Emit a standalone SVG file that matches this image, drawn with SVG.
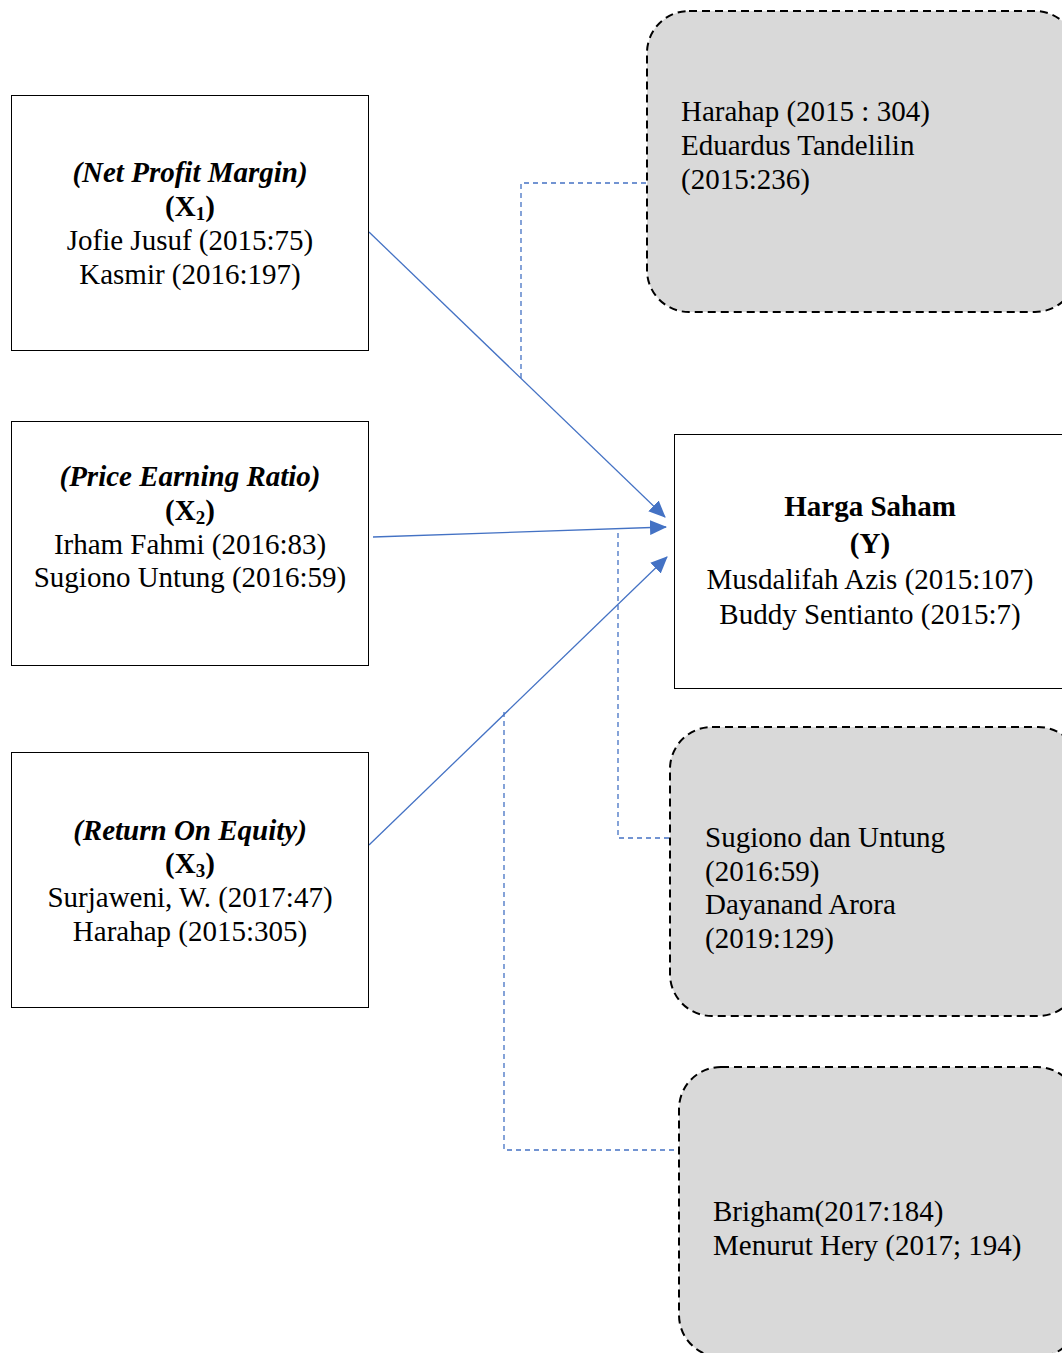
<svg xmlns="http://www.w3.org/2000/svg" width="1062" height="1353" viewBox="0 0 1062 1353">
<style>
text{font-family:"Liberation Serif","Times New Roman",serif;font-size:29px;fill:#000}
.c{text-anchor:middle}
.bi{font-weight:bold;font-style:italic}
.b{font-weight:bold}
.sub{font-size:19px}
.box{fill:#fff;stroke:#000;stroke-width:1}
.rbox{fill:#d9d9d9;stroke:#000;stroke-width:2;stroke-dasharray:8 5}
.arr{stroke:#4472c4;stroke-width:1.3;fill:none}
.dash{stroke:#4472c4;stroke-width:1.3;fill:none;stroke-dasharray:5 4}
</style>
<defs>
<marker id="ah" viewBox="0 0 17 15" refX="16" refY="7.5" markerWidth="17" markerHeight="15" markerUnits="userSpaceOnUse" orient="auto">
<path d="M0,0 L17,7.5 L0,15 z" fill="#4472c4"/>
</marker>
</defs>
<rect width="1062" height="1353" fill="#fff"/>
<g id="connectors">
<path class="dash" d="M521,378 V183 H647"/>
<path class="dash" d="M618,533 V838 H670"/>
<path class="dash" d="M504,712 V1150 H679"/>
<line class="arr" x1="369" y1="232" x2="665" y2="517" marker-end="url(#ah)"/>
<line class="arr" x1="373" y1="537" x2="666" y2="527" marker-end="url(#ah)"/>
<line class="arr" x1="369" y1="845" x2="667" y2="557" marker-end="url(#ah)"/>
</g>
<g id="x1">
<rect class="box" x="11.5" y="95.5" width="357" height="255"/>
<text class="c bi" x="190" y="182">(Net Profit Margin)</text>
<text class="c b" x="190" y="216">(X<tspan class="sub" dy="4">1</tspan><tspan dy="-4">)</tspan></text>
<text class="c" x="190" y="250">Jofie Jusuf (2015:75)</text>
<text class="c" x="190" y="284">Kasmir (2016:197)</text>
</g>
<g id="x2">
<rect class="box" x="11.5" y="421.5" width="357" height="244"/>
<text class="c bi" x="190" y="486">(Price Earning Ratio)</text>
<text class="c b" x="190" y="520">(X<tspan class="sub" dy="4">2</tspan><tspan dy="-4">)</tspan></text>
<text class="c" x="190" y="554">Irham Fahmi (2016:83)</text>
<text class="c" x="190" y="587">Sugiono Untung (2016:59)</text>
</g>
<g id="x3">
<rect class="box" x="11.5" y="752.5" width="357" height="255"/>
<text class="c bi" x="190" y="840">(Return On Equity)</text>
<text class="c b" x="190" y="873">(X<tspan class="sub" dy="4">3</tspan><tspan dy="-4">)</tspan></text>
<text class="c" x="190" y="907">Surjaweni, W. (2017:47)</text>
<text class="c" x="190" y="941">Harahap (2015:305)</text>
</g>
<g id="y">
<rect class="box" x="674.5" y="434.5" width="400" height="254"/>
<text class="c b" x="870" y="516">Harga Saham</text>
<text class="c b" x="870" y="553">(Y)</text>
<text class="c" x="870" y="589">Musdalifah Azis (2015:107)</text>
<text class="c" x="870" y="624">Buddy Sentianto (2015:7)</text>
</g>
<g id="ref1">
<rect class="rbox" x="647" y="11" width="430" height="301" rx="42"/>
<text x="681" y="121">Harahap (2015 : 304)</text>
<text x="681" y="155">Eduardus Tandelilin</text>
<text x="681" y="189">(2015:236)</text>
</g>
<g id="ref2">
<rect class="rbox" x="670" y="727" width="410" height="289" rx="42"/>
<text x="705" y="847">Sugiono dan Untung</text>
<text x="705" y="881">(2016:59)</text>
<text x="705" y="914">Dayanand Arora</text>
<text x="705" y="948">(2019:129)</text>
</g>
<g id="ref3">
<rect class="rbox" x="679" y="1067" width="400" height="290" rx="42"/>
<text x="713" y="1221">Brigham(2017:184)</text>
<text x="713" y="1255">Menurut Hery (2017; 194)</text>
</g>
</svg>
